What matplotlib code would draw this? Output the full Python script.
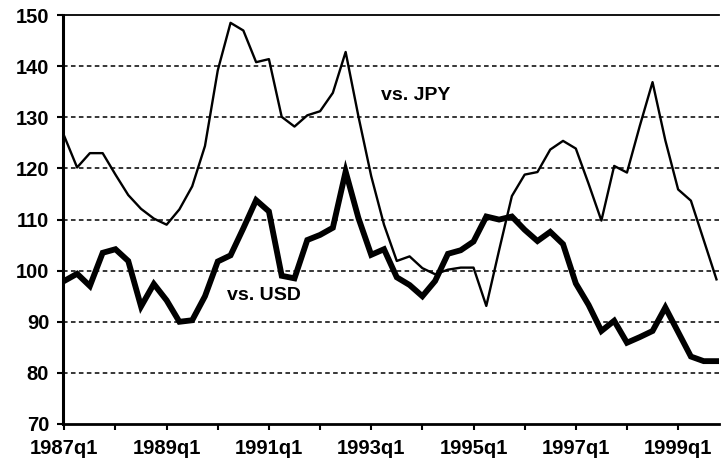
import numpy as np
import matplotlib.pyplot as plt

plt.rcParams['font.family'] = ['Liberation Sans', 'DejaVu Sans']

# quarterly index values, 1987q1 .. 1999q4
quarters = [f"{y}q{q}" for y in range(1987, 2000) for q in range(1, 5)]
vs_jpy = [126.3, 120.2, 123.0, 123.0, 118.8, 114.8, 112.1, 110.2, 109.0, 112.0,
          116.5, 124.4, 139.2, 148.5, 147.0, 140.8, 141.4, 130.1, 128.2, 130.4,
          131.2, 134.8, 142.8, 130.2, 118.5, 109.0, 101.9, 102.8, 100.5, 99.3,
          100.2, 100.6, 100.6, 93.1, 104.0, 114.6, 118.8, 119.3, 123.7, 125.4,
          123.9, 117.0, 109.8, 120.5, 119.2, 128.3, 136.9, 125.5, 115.9, 113.7,
          106.0, 98.3]
vs_usd = [98.0, 99.4, 97.0, 103.5, 104.2, 101.9, 93.0, 97.4, 94.2, 90.0,
          90.3, 95.0, 101.8, 103.0, 108.3, 113.8, 111.6, 99.0, 98.5, 106.0,
          107.0, 108.4, 119.4, 110.3, 103.1, 104.2, 98.7, 97.2, 95.0, 98.0,
          103.3, 104.0, 105.7, 110.6, 110.0, 110.6, 108.0, 105.8, 107.6, 105.2,
          97.5, 93.3, 88.2, 90.2, 85.9, 87.0, 88.2, 92.8, 88.0, 83.2,
          82.3, 82.3]

x = np.arange(len(quarters))

fig = plt.figure(figsize=(7.22, 4.71), dpi=100)
ax = fig.add_axes([0.0873, 0.0998, 0.9086, 0.868])

# dashed horizontal gridlines
for v in range(80, 150, 10):
    ax.axhline(v, color='black', linestyle=(0, (3, 2.2)), linewidth=1.1, zorder=1)

ax.plot(x, vs_jpy, color='black', linewidth=1.7, zorder=3)
ax.plot(x, vs_usd, color='black', linewidth=4.2, solid_joinstyle='miter', zorder=3)

ax.text(27.5, 134.3, 'vs. JPY', fontsize=14, fontweight='bold', ha='center', va='center')
ax.text(15.6, 95.1, 'vs. USD', fontsize=14, fontweight='bold', ha='center', va='center')

ax.set_xlim(-0.1, 51.2)
ax.set_ylim(70, 150)
ax.set_yticks(range(70, 151, 10))
# ticks every year, labels every second year
ax.set_xticks(x[::4])
ax.set_xticklabels([quarters[i] if i % 8 == 0 else '' for i in x[::4]])

ax.tick_params(axis='both', direction='out', length=4, width=1.5, labelsize=14.5)
ax.tick_params(axis='y', pad=6)
ax.tick_params(axis='x', pad=7)
for lab in ax.get_xticklabels() + ax.get_yticklabels():
    lab.set_fontweight('bold')

ax.spines['left'].set_linewidth(2.2)
ax.spines['bottom'].set_linewidth(2.0)
ax.spines['top'].set_linewidth(1.3)
ax.spines['right'].set_visible(False)

plt.savefig('out.png', dpi=100)
